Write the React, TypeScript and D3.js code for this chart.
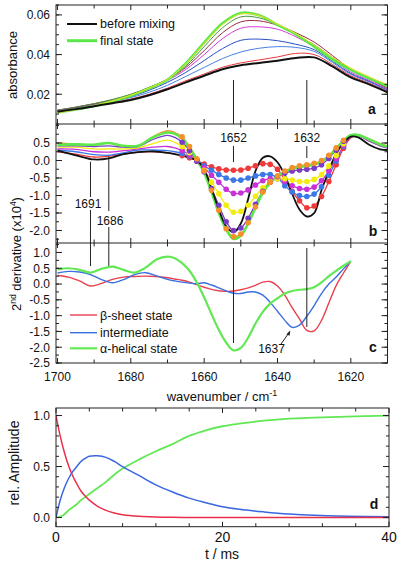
import React from "react";
import * as d3 from "d3";

const FONT = "'Liberation Sans', Arial, Helvetica, sans-serif";

// ---------- Panel a: absorbance spectra ----------
const WN_A = [1700, 1695, 1690, 1685, 1680, 1675, 1670, 1665, 1660, 1655, 1650, 1645, 1640, 1635, 1630, 1625, 1620, 1615, 1610];
const A_BLACK = [0.0112, 0.0125, 0.014, 0.0155, 0.0171, 0.0195, 0.0225, 0.026, 0.0293, 0.0326, 0.0346, 0.0358, 0.0369, 0.0383, 0.0386, 0.034, 0.0285, 0.025, 0.021];
const A_RED = [0.0115, 0.0128, 0.0143, 0.0159, 0.0176, 0.02, 0.0231, 0.0268, 0.0302, 0.0336, 0.0358, 0.0373, 0.0388, 0.0406, 0.04, 0.035, 0.0293, 0.0256, 0.0216];
const A_BLUE1 = [0.0116, 0.013, 0.0146, 0.0163, 0.0183, 0.021, 0.0245, 0.029, 0.0335, 0.038, 0.0413, 0.0432, 0.044, 0.0436, 0.0416, 0.036, 0.03, 0.0262, 0.022];
const A_BLUE2 = [0.0118, 0.0132, 0.0148, 0.0166, 0.0188, 0.022, 0.026, 0.031, 0.037, 0.043, 0.0472, 0.0478, 0.047, 0.0452, 0.0425, 0.0366, 0.0305, 0.0266, 0.0223];
const A_MAGENTA = [0.0118, 0.0133, 0.015, 0.017, 0.0194, 0.023, 0.027, 0.0325, 0.04, 0.048, 0.0533, 0.054, 0.0528, 0.049, 0.044, 0.0375, 0.0312, 0.027, 0.0226];
const A_DARKRED = [0.012, 0.0135, 0.0152, 0.0172, 0.0198, 0.0234, 0.0275, 0.0335, 0.042, 0.051, 0.0565, 0.057, 0.0548, 0.051, 0.0463, 0.0395, 0.0325, 0.0278, 0.023];
const A_OLIVE = [0.012, 0.0135, 0.0153, 0.0174, 0.02, 0.0235, 0.0276, 0.0342, 0.044, 0.0535, 0.059, 0.0585, 0.055, 0.05, 0.045, 0.0385, 0.0323, 0.0278, 0.0234];
const A_YELLOW = [0.0107, 0.0122, 0.0142, 0.0166, 0.0195, 0.0232, 0.0275, 0.0354, 0.0456, 0.0552, 0.0605, 0.0596, 0.0554, 0.0506, 0.0448, 0.0386, 0.0332, 0.0288, 0.0248];
const A_GREEN = [0.0108, 0.0123, 0.0141, 0.0165, 0.0192, 0.023, 0.0273, 0.0356, 0.046, 0.0558, 0.061, 0.0598, 0.055, 0.0502, 0.044, 0.0375, 0.0323, 0.028, 0.0243];
const A_TICKS = [0.02, 0.04, 0.06];

// ---------- Panel b: 2nd derivative time series ----------
const WN_B = [1700, 1695, 1690, 1686, 1682, 1678, 1674, 1670, 1668, 1666, 1664, 1662, 1660, 1658, 1656, 1654, 1652, 1650, 1648, 1646, 1644, 1642, 1640, 1638, 1636, 1634, 1632, 1630, 1628, 1626, 1624, 1622, 1620, 1618, 1615, 1612, 1610];
const B_BLACK = [0.28, 0.15, 0.03, 0.06, 0.18, 0.24, 0.26, 0.22, 0.18, 0.14, 0.08, 0.0, -0.25, -0.8, -1.4, -1.88, -2.05, -1.8, -1.1, -0.3, 0.08, 0.12, -0.05, -0.42, -0.95, -1.4, -1.6, -1.5, -0.85, -0.3, 0.2, 0.5, 0.68, 0.66, 0.45, 0.32, 0.3];
const B_RED = [0.25, 0.18, 0.1, 0.12, 0.18, 0.24, 0.25, 0.22, 0.18, 0.14, 0.08, 0.0, -0.1, -0.18, -0.24, -0.27, -0.28, -0.27, -0.22, -0.15, -0.09, -0.11, -0.25, -0.55, -0.89, -1.15, -1.35, -1.3, -1.03, -0.6, -0.12, 0.35, 0.65, 0.72, 0.58, 0.44, 0.38];
const B_BLUE = [0.3, 0.25, 0.17, 0.15, 0.22, 0.3, 0.3, 0.28, 0.25, 0.2, 0.12, 0.02, -0.15, -0.28, -0.4, -0.5, -0.56, -0.56, -0.5, -0.44, -0.4, -0.4, -0.5, -0.72, -0.9, -1.0, -1.03, -0.96, -0.75, -0.42, -0.02, 0.4, 0.68, 0.72, 0.56, 0.42, 0.36];
const B_MAGENTA = [0.33, 0.32, 0.25, 0.24, 0.28, 0.33, 0.38, 0.4, 0.36, 0.28, 0.16, 0.0, -0.2, -0.42, -0.62, -0.82, -0.94, -0.93, -0.84, -0.7, -0.58, -0.52, -0.52, -0.6, -0.72, -0.8, -0.82, -0.76, -0.58, -0.3, 0.04, 0.42, 0.68, 0.72, 0.55, 0.42, 0.36];
const B_YELLOW = [0.38, 0.38, 0.33, 0.33, 0.33, 0.36, 0.48, 0.58, 0.52, 0.4, 0.22, -0.02, -0.28, -0.62, -0.95, -1.28, -1.48, -1.45, -1.28, -1.02, -0.78, -0.6, -0.52, -0.52, -0.56, -0.6, -0.6, -0.54, -0.4, -0.16, 0.14, 0.48, 0.7, 0.73, 0.6, 0.46, 0.4];
const B_PURPLE = [0.42, 0.42, 0.4, 0.42, 0.38, 0.4, 0.6, 0.72, 0.66, 0.52, 0.28, -0.02, -0.32, -0.8, -1.28, -1.75, -2.0, -1.93, -1.65, -1.25, -0.88, -0.62, -0.46, -0.36, -0.3, -0.27, -0.25, -0.22, -0.12, 0.06, 0.3, 0.55, 0.72, 0.73, 0.58, 0.44, 0.38];
const B_ORANGE = [0.5, 0.47, 0.45, 0.5, 0.42, 0.42, 0.68, 0.85, 0.8, 0.68, 0.4, 0.05, -0.3, -0.85, -1.42, -1.95, -2.17, -2.1, -1.78, -1.32, -0.9, -0.62, -0.44, -0.3, -0.2, -0.15, -0.12, -0.08, 0.0, 0.15, 0.36, 0.58, 0.73, 0.74, 0.62, 0.48, 0.42];
const B_GREEN = [0.45, 0.46, 0.45, 0.5, 0.42, 0.42, 0.66, 0.8, 0.76, 0.62, 0.36, 0.04, -0.35, -0.9, -1.5, -1.97, -2.24, -2.15, -1.8, -1.35, -0.92, -0.64, -0.45, -0.32, -0.24, -0.19, -0.16, -0.12, -0.03, 0.12, 0.34, 0.56, 0.72, 0.73, 0.6, 0.46, 0.4];
const B_TICKS = [0.5, 0, -0.5, -1.0, -1.5, -2.0];

// ---------- Panel c: state spectra ----------
const WN_C = [1700, 1697, 1694, 1691, 1688, 1685, 1682, 1679, 1676, 1673, 1670, 1668, 1666, 1664, 1662, 1660, 1658, 1656, 1654, 1652, 1650, 1648, 1646, 1644, 1642, 1640, 1638, 1636, 1634, 1632, 1630, 1628, 1626, 1624, 1622, 1620];
const C_BETA = [0.27, 0.22, 0.1, -0.06, 0.02, 0.15, 0.22, 0.24, 0.25, 0.24, 0.2, 0.16, 0.12, 0.06, -0.02, -0.1, -0.17, -0.21, -0.23, -0.22, -0.18, -0.12, -0.04, 0.06, 0.08, -0.06, -0.35, -0.75, -1.1, -1.47, -1.48, -1.15, -0.6, -0.05, 0.35, 0.72];
const C_INTER = [0.35, 0.4, 0.38, 0.3, 0.14, 0.04, 0.14, 0.3, 0.36, 0.26, 0.15, 0.1, 0.06, 0.03, 0.01, 0.04, -0.03, -0.12, -0.22, -0.29, -0.3, -0.25, -0.25, -0.35, -0.58, -0.86, -1.15, -1.37, -1.3, -1.02, -0.68, -0.3, 0.0, 0.22, 0.48, 0.72];
const C_ALPHA = [0.46, 0.5, 0.45, 0.36, 0.48, 0.55, 0.45, 0.36, 0.52, 0.78, 0.87, 0.82, 0.66, 0.42, 0.05, -0.42, -0.95, -1.45, -1.85, -2.1, -2.02, -1.7, -1.25, -0.88, -0.62, -0.45, -0.3, -0.22, -0.18, -0.16, -0.1, 0.05, 0.25, 0.42, 0.58, 0.72];
const C_TICKS = [1.0, 0.5, 0, -0.5, -1.0, -1.5, -2.0, -2.5];
const WN_LABELS = [1700, 1680, 1660, 1640, 1620];

// ---------- Panel d: kinetics ----------
const T_MS = [0, 0.5, 1, 1.5, 2, 2.5, 3, 3.5, 4, 5, 6, 7, 8, 10, 12, 14, 16, 18, 20, 22, 25, 28, 31, 35, 40];
const D_BETA = [1.0, 0.8, 0.64, 0.51, 0.41, 0.33, 0.26, 0.21, 0.17, 0.11, 0.07, 0.045, 0.028, 0.012, 0.005, 0.002, 0.001, 0, 0, 0, 0, 0, 0, 0, 0];
const D_INTER = [0, 0.17, 0.29, 0.38, 0.45, 0.5, 0.55, 0.58, 0.6, 0.605, 0.59, 0.55, 0.5, 0.41, 0.32, 0.25, 0.19, 0.145, 0.105, 0.08, 0.055, 0.035, 0.022, 0.013, 0.007];
const D_ALPHA = [0, 0.01, 0.03, 0.07, 0.1, 0.13, 0.17, 0.2, 0.23, 0.29, 0.35, 0.42, 0.48, 0.57, 0.65, 0.72, 0.8, 0.855, 0.895, 0.92, 0.95, 0.97, 0.98, 0.99, 1.0];
const D_YTICKS = [0, 0.5, 1.0];
const D_XTICKS = [0, 20, 40];

// ---------- scales ----------
const L = 56, R = 387.5;
const xW = d3.scaleLinear().domain([1700.4, 1610]).range([L, R]);
const yA = d3.scaleLinear().domain([0.005, 0.065]).range([124, 5]);
const yB = d3.scaleLinear().domain([-2.357, 1.043]).range([243, 124]);
const yC = d3.scaleLinear().domain([-2.5, 1.3]).range([363, 243]);
const xT = d3.scaleLinear().domain([0, 40]).range([56, 389]);
const yD = d3.scaleLinear().domain([-0.09, 1.074]).range([526.7, 408]);

function mk(xs: number[], ys: number[], sx: any, sy: any) {
  return d3
    .line<number>()
    .x((_, i) => sx(xs[i]))
    .y((d) => sy(d))
    .curve(d3.curveCatmullRom.alpha(0.5))(ys) as string;
}

const fmt1 = (v: number) => v.toFixed(1).replace("-0.0", "0.0");

export default function App() {
  const wnTicks = d3.range(1700, 1609, -10);
  const panelsW = [
    { top: 5, bot: 124 },
    { top: 124, bot: 243 },
    { top: 243, bot: 363 },
  ];

  const aSeries = [
    { d: A_RED, c: "#e8383c", w: 1 },
    { d: A_BLUE1, c: "#4a80e4", w: 1 },
    { d: A_BLUE2, c: "#2a4fc0", w: 1 },
    { d: A_MAGENTA, c: "#d43ad8", w: 1 },
    { d: A_DARKRED, c: "#9c2a44", w: 1 },
    { d: A_OLIVE, c: "#4e9040", w: 1 },
    { d: A_GREEN, c: "#5ce84a", w: 2.6 },
    { d: A_YELLOW, c: "#e6e020", w: 1 },
    { d: A_BLACK, c: "#111", w: 2 },
  ];

  const bSeries = [
    { d: B_RED, c: "#f03a3a", dots: true },
    { d: B_BLUE, c: "#3a78e8", dots: true },
    { d: B_MAGENTA, c: "#c832d8", dots: true },
    { d: B_YELLOW, c: "#f2ec10", dots: true },
    { d: B_PURPLE, c: "#7a3cc8", dots: true },
    { d: B_ORANGE, c: "#f5902a", dots: true },
  ];

  const minorA = d3.range(0.005, 0.0651, 0.005);
  const minorB = d3.range(-2.25, 1.01, 0.25);
  const minorC = d3.range(-2.5, 1.26, 0.25);
  const minorDY = d3.range(0, 1.051, 0.1);
  const minorDX = d3.range(0, 40.1, 4);

  const yTickMarks = (vals: number[], sy: any, len: number, x0: number, x1: number, key: string) =>
    vals.map((v, i) => (
      <g key={key + i}>
        <line x1={x0} x2={x0 + len} y1={sy(v)} y2={sy(v)} />
        <line x1={x1} x2={x1 - len} y1={sy(v)} y2={sy(v)} />
      </g>
    ));

  const dotsFor = (arr: number[], c: string, k: string) =>
    WN_B.map((w, i) =>
      w >= 1622 && w <= 1666 ? (
        <circle key={k + i} cx={xW(w)} cy={yB(arr[i])} r={2.8} fill={c} />
      ) : null
    );

  return (
    <svg width={400} height={563} style={{ position: "absolute", left: 0, top: 0, background: "#fff" }} fontFamily={FONT}>
      <defs>
        <clipPath id="ca"><rect x={L} y={5} width={R - L} height={119} /></clipPath>
        <clipPath id="cb"><rect x={L} y={124} width={R - L} height={119} /></clipPath>
        <clipPath id="cc"><rect x={L} y={243} width={R - L} height={120} /></clipPath>
        <clipPath id="cd"><rect x={56} y={408} width={333} height={118.7} /></clipPath>
      </defs>

      {/* ---------- Panel a ---------- */}
      <g clipPath="url(#ca)" fill="none">
        {aSeries.map((s, i) => (
          <path key={"a" + i} d={mk(WN_A, s.d, xW, yA)} stroke={s.c} strokeWidth={s.w} />
        ))}
      </g>
      <g stroke="#222" strokeWidth={1}>
        <line x1={xW(1652)} x2={xW(1652)} y1={80} y2={124} />
        <line x1={xW(1632)} x2={xW(1632)} y1={80} y2={124} />
      </g>
      {/* legend a */}
      <line x1={67} x2={97} y1={24} y2={24} stroke="#111" strokeWidth={2} />
      <line x1={67} x2={97} y1={40.7} y2={40.7} stroke="#5ce84a" strokeWidth={3} />
      <text x={100} y={28.3} fontSize={12.5} fill="#111">before mixing</text>
      <text x={100} y={45} fontSize={12.5} fill="#111">final state</text>

      {/* ---------- Panel b ---------- */}
      <g clipPath="url(#cb)" fill="none">
        {bSeries.map((s, i) => (
          <path key={"bl" + i} d={mk(WN_B, s.d, xW, yB)} stroke={s.c} strokeWidth={1.3} />
        ))}
        <path d={mk(WN_B, B_GREEN, xW, yB)} stroke="#5ce84a" strokeWidth={2.6} />
        <path d={mk(WN_B, B_BLACK, xW, yB)} stroke="#111" strokeWidth={1.8} />
        {bSeries.map((s, i) => dotsFor(s.d, s.c, "bd" + i))}
      </g>
      <g stroke="#222" strokeWidth={1}>
        <line x1={xW(1652)} x2={xW(1652)} y1={146} y2={162} />
        <line x1={xW(1632)} x2={xW(1632)} y1={146} y2={158} />
        <line x1={xW(1691)} x2={xW(1691)} y1={161.7} y2={197} />
        <line x1={xW(1691)} x2={xW(1691)} y1={210} y2={266} />
        <line x1={xW(1686)} x2={xW(1686)} y1={156.7} y2={211} />
        <line x1={xW(1686)} x2={xW(1686)} y1={227} y2={266} />
      </g>
      <g fontSize={12} fill="#111" textAnchor="middle">
        <text x={xW(1652)} y={142}>1652</text>
        <text x={xW(1632)} y={142}>1632</text>
        <text x={88} y={207.5}>1691</text>
        <text x={110} y={224.5}>1686</text>
      </g>

      {/* ---------- Panel c ---------- */}
      <g clipPath="url(#cc)" fill="none">
        <path d={mk(WN_C, C_BETA, xW, yC)} stroke="#e8404e" strokeWidth={1.4} />
        <path d={mk(WN_C, C_INTER, xW, yC)} stroke="#3a6fe0" strokeWidth={1.4} />
        <path d={mk(WN_C, C_ALPHA, xW, yC)} stroke="#62e854" strokeWidth={2.2} />
      </g>
      <g stroke="#222" strokeWidth={1}>
        <line x1={xW(1652)} x2={xW(1652)} y1={248} y2={343} />
        <line x1={xW(1632)} x2={xW(1632)} y1={248} y2={327} />
        <line x1={281} x2={289.5} y1={344} y2={332} />
      </g>
      <path d="M 290.3 330.5 L 286.4 334.2 L 289.6 335.8 Z" fill="#222" />
      <text x={271.5} y={352.5} fontSize={12} textAnchor="middle" fill="#111">1637</text>
      {/* legend c */}
      <line x1={70} x2={97} y1={315} y2={315} stroke="#e8404e" strokeWidth={1.4} />
      <line x1={70} x2={97} y1={332.7} y2={332.7} stroke="#3a6fe0" strokeWidth={1.4} />
      <line x1={70} x2={97} y1={348.3} y2={348.3} stroke="#62e854" strokeWidth={2.2} />
      <g fontSize={12.5} fill="#111">
        <text x={100} y={319.5}>β-sheet state</text>
        <text x={100} y={337}>intermediate</text>
        <text x={100} y={352.7}>α-helical state</text>
      </g>

      {/* ---------- frames & ticks a-c ---------- */}
      <g stroke="#222" strokeWidth={1} fill="none">
        <rect x={L} y={5} width={R - L} height={358} />
        <line x1={L} x2={R} y1={124} y2={124} />
        <line x1={L} x2={R} y1={243} y2={243} />
        {panelsW.map((p, pi) =>
          wnTicks.map((w) => {
            const len = w % 20 === 0 ? 5 : 3.5;
            return (
              <g key={"wt" + pi + w}>
                <line x1={xW(w)} x2={xW(w)} y1={p.top} y2={p.top + len} />
                <line x1={xW(w)} x2={xW(w)} y1={p.bot} y2={p.bot - len} />
              </g>
            );
          })
        )}
        {yTickMarks(minorA, yA, 3, L, R, "ma")}
        {yTickMarks(A_TICKS, yA, 6, L, R, "MA")}
        {yTickMarks(minorB, yB, 3, L, R, "mb")}
        {yTickMarks(B_TICKS, yB, 6, L, R, "MB")}
        {yTickMarks(minorC, yC, 3, L, R, "mc")}
        {yTickMarks(C_TICKS, yC, 6, L, R, "MC")}
      </g>
      <g fontSize={12} fill="#111" textAnchor="end">
        {A_TICKS.map((v) => (
          <text key={"la" + v} x={50} y={yA(v)} dy="0.36em">{v.toFixed(2)}</text>
        ))}
        {B_TICKS.map((v) => (
          <text key={"lb" + v} x={50} y={yB(v)} dy="0.36em">{fmt1(v)}</text>
        ))}
        {C_TICKS.map((v) => (
          <text key={"lc" + v} x={50} y={yC(v)} dy="0.36em">{fmt1(v)}</text>
        ))}
      </g>
      <g fontSize={12} fill="#111" textAnchor="middle">
        {WN_LABELS.map((w) => (
          <text key={"lw" + w} x={xW(w)} y={381}>{w}</text>
        ))}
      </g>
      <text x={222} y={401} fontSize={13} textAnchor="middle" fill="#111">
        wavenumber / cm<tspan dy={-5} fontSize={9}>-1</tspan>
      </text>

      {/* panel letters */}
      <g fontSize={14} fontWeight="bold" fill="#111" textAnchor="middle">
        <text x={372} y={113.5}>a</text>
        <text x={373} y={236}>b</text>
        <text x={373} y={352}>c</text>
        <text x={374} y={508.5}>d</text>
      </g>

      {/* y labels */}
      <text transform="translate(16.5,65) rotate(-90)" fontSize={13} textAnchor="middle" fill="#111">absorbance</text>
      <text transform="translate(21,254) rotate(-90)" fontSize={13} textAnchor="middle" fill="#111">
        2<tspan dy={-5} fontSize={8.5}>nd</tspan>
        <tspan dy={5}> derivative (x10</tspan>
        <tspan dy={-5} fontSize={8.5}>4</tspan>
        <tspan dy={5}>)</tspan>
      </text>
      <text transform="translate(18.5,463) rotate(-90)" fontSize={14} textAnchor="middle" fill="#111">rel. Amplitude</text>

      {/* ---------- Panel d ---------- */}
      <g clipPath="url(#cd)" fill="none" strokeWidth={1.5}>
        <path d={mk(T_MS, D_ALPHA, xT, yD)} stroke="#62e854" strokeWidth={1.8} />
        <path d={mk(T_MS, D_INTER, xT, yD)} stroke="#3a66e0" />
        <path d={mk(T_MS, D_BETA, xT, yD)} stroke="#e8304a" />
      </g>
      <g stroke="#222" strokeWidth={1} fill="none">
        <rect x={56} y={408} width={333} height={118.7} />
        {minorDX.map((t) => {
          const len = t % 20 === 0 ? 5 : 3.5;
          return (
            <g key={"dx" + t}>
              <line x1={xT(t)} x2={xT(t)} y1={408} y2={408 + len} />
              <line x1={xT(t)} x2={xT(t)} y1={526.7} y2={526.7 - len} />
            </g>
          );
        })}
        {yTickMarks(minorDY, yD, 3, 56, 389, "md")}
        {yTickMarks(D_YTICKS, yD, 6, 56, 389, "MD")}
      </g>
      <g fontSize={12} fill="#111" textAnchor="end">
        {D_YTICKS.map((v) => (
          <text key={"ld" + v} x={50} y={yD(v)} dy="0.36em">{v.toFixed(1)}</text>
        ))}
      </g>
      <g fontSize={14} fill="#111" textAnchor="middle">
        {D_XTICKS.map((t) => (
          <text key={"lt" + t} x={xT(t)} y={542}>{t}</text>
        ))}
      </g>
      <text x={222} y={558.5} fontSize={14} textAnchor="middle" fill="#111">t / ms</text>
    </svg>
  );
}
